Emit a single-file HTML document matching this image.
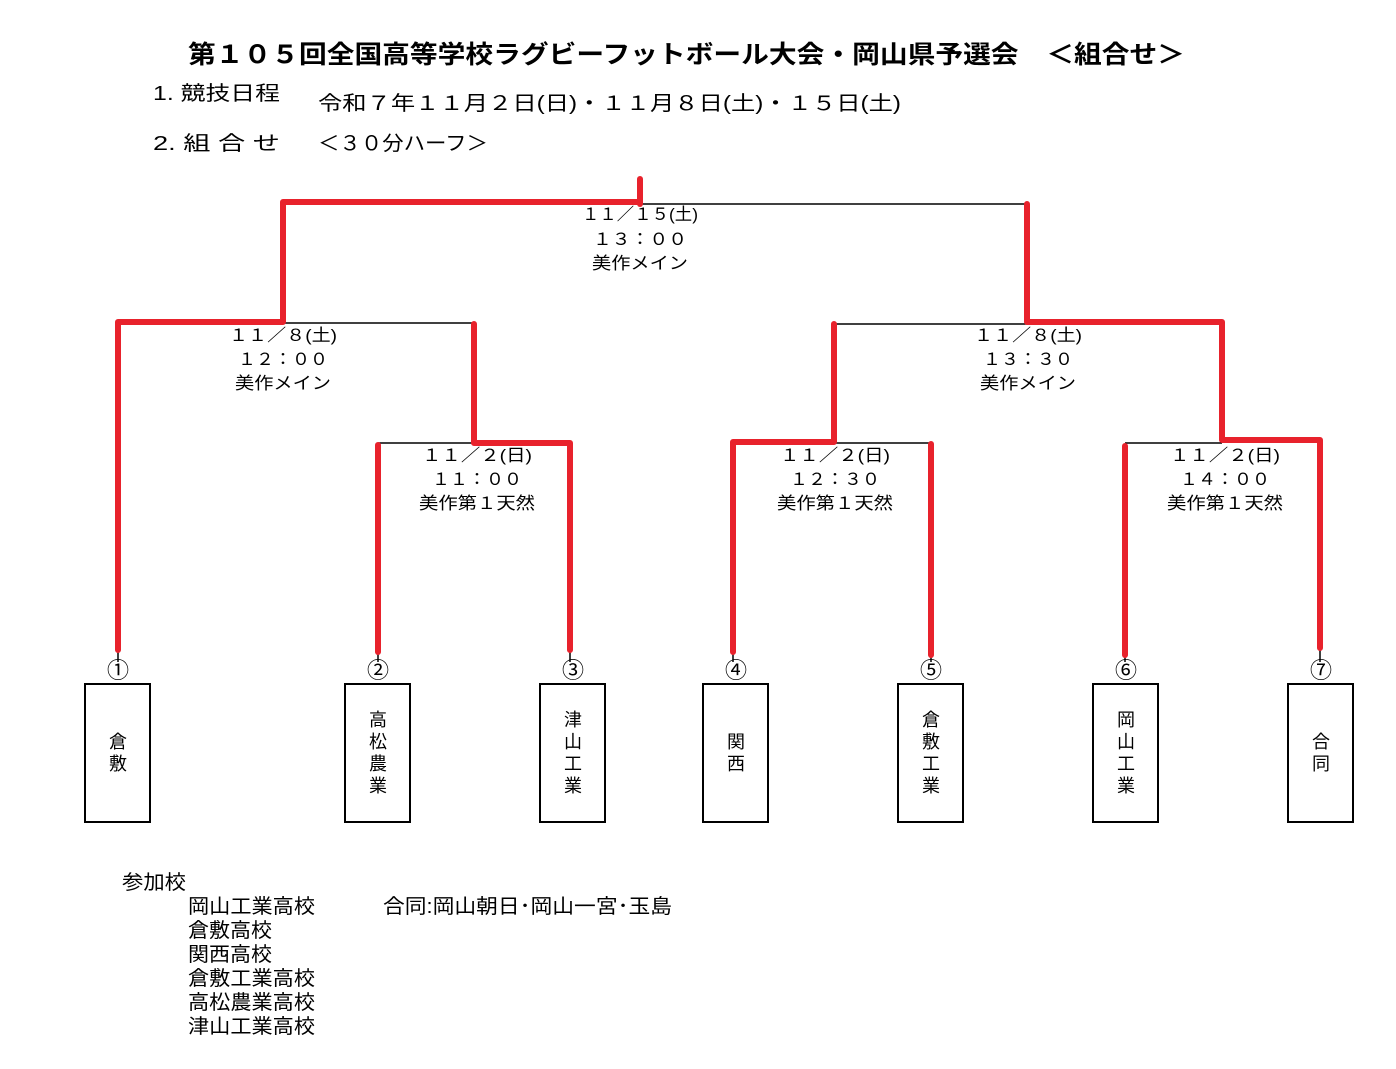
<!DOCTYPE html>
<html><head><meta charset="utf-8"><style>
body{margin:0;background:#fff;}
svg{display:block;}
text{font-family:"Liberation Sans","Noto Sans CJK JP",sans-serif;fill:#000;}
</style></head><body>
<svg width="1396" height="1069" viewBox="0 0 1396 1069" xmlns="http://www.w3.org/2000/svg">
<text x="188" y="63" font-size="25" font-weight="bold" textLength="997" lengthAdjust="spacingAndGlyphs">第１０５回全国高等学校ラグビーフットボール大会・岡山県予選会　＜組合せ＞</text>
<text x="153" y="100" font-size="20" textLength="127" lengthAdjust="spacingAndGlyphs">1. 競技日程</text>
<text x="318" y="110" font-size="20" textLength="583" lengthAdjust="spacingAndGlyphs">令和７年１１月２日(日)・１１月８日(土)・１５日(土)</text>
<text x="153" y="150" font-size="20" textLength="127" lengthAdjust="spacingAndGlyphs">2. 組 合 せ</text>
<text x="318" y="150" font-size="20" textLength="170" lengthAdjust="spacingAndGlyphs">＜３０分ハーフ＞</text>

<g stroke="#000" stroke-width="1.5" fill="none">
<line x1="640" y1="204" x2="1027" y2="204"/>
<line x1="283" y1="323" x2="474" y2="323"/>
<line x1="834" y1="324" x2="1027" y2="324"/>
<line x1="378" y1="443" x2="474" y2="443"/>
<line x1="834" y1="443" x2="931" y2="443"/>
<line x1="1125" y1="443" x2="1222" y2="443"/>
<line x1="118" y1="650" x2="118" y2="662"/>
<line x1="378" y1="650" x2="378" y2="662"/>
<line x1="570" y1="650" x2="570" y2="662"/>
<line x1="733" y1="650" x2="733" y2="662"/>
<line x1="931" y1="650" x2="931" y2="662"/>
<line x1="1125" y1="650" x2="1125" y2="662"/>
<line x1="1320" y1="650" x2="1320" y2="662"/>
</g>
<g stroke="#e8222c" stroke-width="6" fill="none" stroke-linecap="round" stroke-linejoin="round">
<line x1="640" y1="179" x2="640" y2="204"/>
<polyline points="640,202 283,202 283,322 118,322 118,650"/>
<polyline points="474,324 474,443 570,443 570,650"/>
<line x1="378" y1="445" x2="378" y2="652"/>
<polyline points="1027,204 1027,322 1222,322 1222,440 1320,440 1320,648"/>
<polyline points="834,324 834,442 733,442 733,652"/>
<line x1="931" y1="444" x2="931" y2="655"/>
<line x1="1125" y1="446" x2="1125" y2="655"/>
</g>

<g font-size="17" text-anchor="middle" lengthAdjust="spacingAndGlyphs">
<text x="640" y="220" textLength="116" lengthAdjust="spacingAndGlyphs">１１／１５(土)</text>
<text x="640" y="245" textLength="94" lengthAdjust="spacingAndGlyphs">１３：００</text>
<text x="640" y="269" textLength="96" lengthAdjust="spacingAndGlyphs">美作メイン</text>
<text x="283" y="341" textLength="108" lengthAdjust="spacingAndGlyphs">１１／８(土)</text>
<text x="283" y="365" textLength="90" lengthAdjust="spacingAndGlyphs">１２：００</text>
<text x="283" y="389" textLength="96" lengthAdjust="spacingAndGlyphs">美作メイン</text>
<text x="1028" y="341" textLength="108" lengthAdjust="spacingAndGlyphs">１１／８(土)</text>
<text x="1028" y="365" textLength="90" lengthAdjust="spacingAndGlyphs">１３：３０</text>
<text x="1028" y="389" textLength="96" lengthAdjust="spacingAndGlyphs">美作メイン</text>
<text x="477" y="461" textLength="110" lengthAdjust="spacingAndGlyphs">１１／２(日)</text>
<text x="477" y="485" textLength="90" lengthAdjust="spacingAndGlyphs">１１：００</text>
<text x="477" y="509" textLength="116" lengthAdjust="spacingAndGlyphs">美作第１天然</text>
<text x="835" y="461" textLength="110" lengthAdjust="spacingAndGlyphs">１１／２(日)</text>
<text x="835" y="485" textLength="90" lengthAdjust="spacingAndGlyphs">１２：３０</text>
<text x="835" y="509" textLength="116" lengthAdjust="spacingAndGlyphs">美作第１天然</text>
<text x="1225" y="461" textLength="110" lengthAdjust="spacingAndGlyphs">１１／２(日)</text>
<text x="1225" y="485" textLength="90" lengthAdjust="spacingAndGlyphs">１４：００</text>
<text x="1225" y="509" textLength="116" lengthAdjust="spacingAndGlyphs">美作第１天然</text>
</g>

<g font-size="22" text-anchor="middle">
<text x="118" y="678">①</text><text x="378" y="678">②</text><text x="573" y="678">③</text>
<text x="736" y="678">④</text><text x="931" y="678">⑤</text><text x="1126" y="678">⑥</text><text x="1321" y="678">⑦</text>
</g>
<g stroke="#000" stroke-width="2" fill="none">
<rect x="85" y="684" width="65" height="138"/>
<rect x="345" y="684" width="65" height="138"/>
<rect x="540" y="684" width="65" height="138"/>
<rect x="703" y="684" width="65" height="138"/>
<rect x="898" y="684" width="65" height="138"/>
<rect x="1093" y="684" width="65" height="138"/>
<rect x="1288" y="684" width="65" height="138"/>
</g>
<g font-size="18" text-anchor="middle">
<text x="118" y="748">倉</text><text x="118" y="770">敷</text>
<text x="378" y="726">高</text><text x="378" y="748">松</text><text x="378" y="770">農</text><text x="378" y="792">業</text>
<text x="573" y="726">津</text><text x="573" y="748">山</text><text x="573" y="770">工</text><text x="573" y="792">業</text>
<text x="736" y="748">関</text><text x="736" y="770">西</text>
<text x="931" y="726">倉</text><text x="931" y="748">敷</text><text x="931" y="770">工</text><text x="931" y="792">業</text>
<text x="1126" y="726">岡</text><text x="1126" y="748">山</text><text x="1126" y="770">工</text><text x="1126" y="792">業</text>
<text x="1321" y="748">合</text><text x="1321" y="770">同</text>
</g>

<g font-size="20">
<text x="122" y="889" textLength="64" lengthAdjust="spacingAndGlyphs">参加校</text>
<text x="188" y="913" textLength="127" lengthAdjust="spacingAndGlyphs">岡山工業高校</text>
<text x="188" y="937" textLength="84" lengthAdjust="spacingAndGlyphs">倉敷高校</text>
<text x="188" y="961" textLength="84" lengthAdjust="spacingAndGlyphs">関西高校</text>
<text x="188" y="985" textLength="127" lengthAdjust="spacingAndGlyphs">倉敷工業高校</text>
<text x="188" y="1009" textLength="127" lengthAdjust="spacingAndGlyphs">高松農業高校</text>
<text x="188" y="1033" textLength="127" lengthAdjust="spacingAndGlyphs">津山工業高校</text>
<text x="383" y="913" textLength="289" lengthAdjust="spacingAndGlyphs">合同:岡山朝日･岡山一宮･玉島</text>
</g>
</svg>
</body></html>
